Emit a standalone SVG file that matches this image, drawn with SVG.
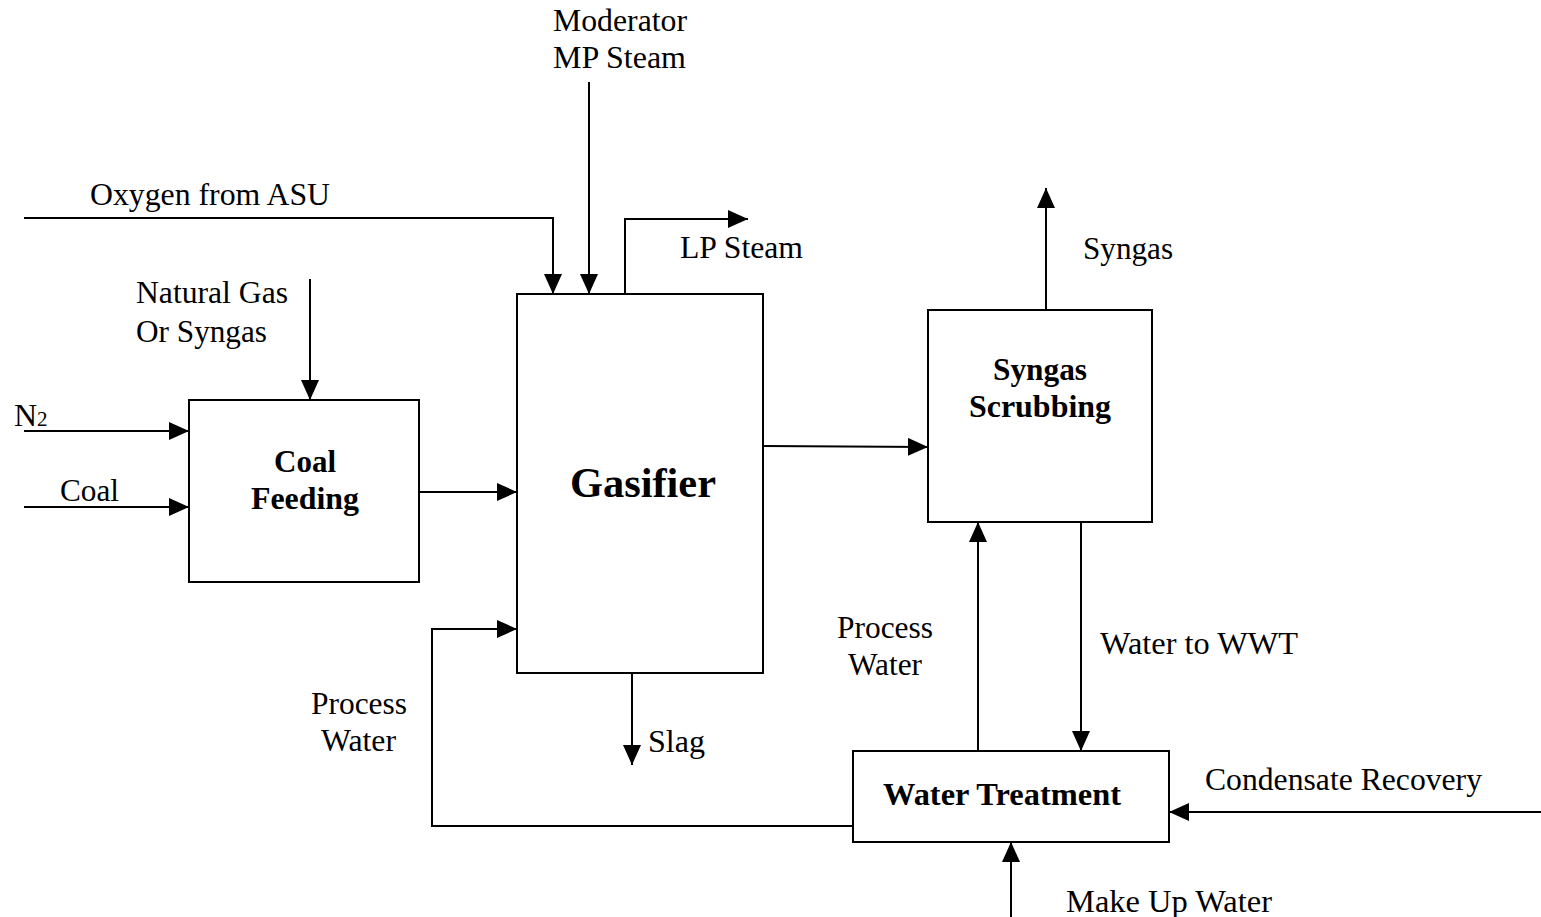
<svg xmlns="http://www.w3.org/2000/svg" width="1541" height="917" viewBox="0 0 1541 917">
  <style>
    .box { fill: #ffffff; stroke: #000000; stroke-width: 2; }
    .flow { fill: none; stroke: #000000; stroke-width: 2; marker-end: url(#arrow); }
    .lbl { font-family: "Liberation Serif", "Times New Roman", serif; font-size: 32px; fill: #000000; }
    .title { font-family: "Liberation Serif", "Times New Roman", serif; font-size: 31px; font-weight: bold; fill: #000000; }
    .big { font-family: "Liberation Serif", "Times New Roman", serif; font-size: 42px; font-weight: bold; fill: #000000; }
  </style>
  <defs>
    <marker id="arrow" markerUnits="userSpaceOnUse" markerWidth="20" markerHeight="18" refX="20" refY="9" orient="auto">
      <path d="M0,0 L20,9 L0,18 z" fill="#000000"/>
    </marker>
  </defs>
  <rect width="1541" height="917" fill="#ffffff"/>

  <!-- process units -->
  <g id="coal-feeding">
    <rect class="box" x="189" y="400" width="230" height="182"/>
    <text class="title" x="274" y="472" textLength="62" lengthAdjust="spacingAndGlyphs">Coal</text>
    <text class="title" x="251" y="509" textLength="108" lengthAdjust="spacingAndGlyphs">Feeding</text>
  </g>
  <g id="gasifier">
    <rect class="box" x="517" y="294" width="246" height="379"/>
    <text class="big" x="570" y="497" textLength="146" lengthAdjust="spacingAndGlyphs">Gasifier</text>
  </g>
  <g id="syngas-scrubbing">
    <rect class="box" x="928" y="310" width="224" height="212"/>
    <text class="title" x="993" y="380" textLength="94" lengthAdjust="spacingAndGlyphs">Syngas</text>
    <text class="title" x="969" y="417" textLength="142" lengthAdjust="spacingAndGlyphs">Scrubbing</text>
  </g>
  <g id="water-treatment">
    <rect class="box" x="853" y="751" width="316" height="91"/>
    <text class="title" x="883" y="805" textLength="238" lengthAdjust="spacingAndGlyphs">Water Treatment</text>
  </g>

  <!-- streams -->
  <g id="connectors">
    <path class="flow" d="M24,218 H553 V294"/>
    <path class="flow" d="M589,82 V294"/>
    <path class="flow" d="M625,294 V219 H748"/>
    <path class="flow" d="M310,279 V400"/>
    <path class="flow" d="M24,431 H189"/>
    <path class="flow" d="M24,507 H189"/>
    <path class="flow" d="M419,492 H517"/>
    <path class="flow" d="M763,446 L928,447"/>
    <path class="flow" d="M1046,310 V188"/>
    <path class="flow" d="M632,673 V765"/>
    <path class="flow" d="M853,826 H432 V629 H517"/>
    <path class="flow" d="M978,751 V522"/>
    <path class="flow" d="M1081,522 V751"/>
    <path class="flow" d="M1541,812 H1169"/>
    <path class="flow" d="M1011,917 V842"/>
  </g>

  <!-- stream labels -->
  <g id="labels">
    <text class="lbl" x="553" y="31" textLength="134" lengthAdjust="spacingAndGlyphs">Moderator</text>
    <text class="lbl" x="553" y="68" textLength="133" lengthAdjust="spacingAndGlyphs">MP Steam</text>
    <text class="lbl" x="90" y="205" textLength="240" lengthAdjust="spacingAndGlyphs">Oxygen from ASU</text>
    <text class="lbl" x="680" y="258" textLength="123" lengthAdjust="spacingAndGlyphs">LP Steam</text>
    <text class="lbl" x="1083" y="259" textLength="90" lengthAdjust="spacingAndGlyphs">Syngas</text>
    <text class="lbl" x="136" y="303" textLength="152" lengthAdjust="spacingAndGlyphs">Natural Gas</text>
    <text class="lbl" x="136" y="342" textLength="131" lengthAdjust="spacingAndGlyphs">Or Syngas</text>
    <text class="lbl" x="14" y="426">N<tspan font-size="21">2</tspan></text>
    <text class="lbl" x="60" y="501" textLength="59" lengthAdjust="spacingAndGlyphs">Coal</text>
    <text class="lbl" x="837" y="638" textLength="96" lengthAdjust="spacingAndGlyphs">Process</text>
    <text class="lbl" x="848" y="675" textLength="74" lengthAdjust="spacingAndGlyphs">Water</text>
    <text class="lbl" x="1100" y="654" textLength="198" lengthAdjust="spacingAndGlyphs">Water to WWT</text>
    <text class="lbl" x="311" y="714" textLength="96" lengthAdjust="spacingAndGlyphs">Process</text>
    <text class="lbl" x="321" y="751" textLength="75" lengthAdjust="spacingAndGlyphs">Water</text>
    <text class="lbl" x="648" y="752" textLength="57" lengthAdjust="spacingAndGlyphs">Slag</text>
    <text class="lbl" x="1205" y="790" textLength="277" lengthAdjust="spacingAndGlyphs">Condensate Recovery</text>
    <text class="lbl" x="1066" y="912" textLength="206" lengthAdjust="spacingAndGlyphs">Make Up Water</text>
  </g>
</svg>
